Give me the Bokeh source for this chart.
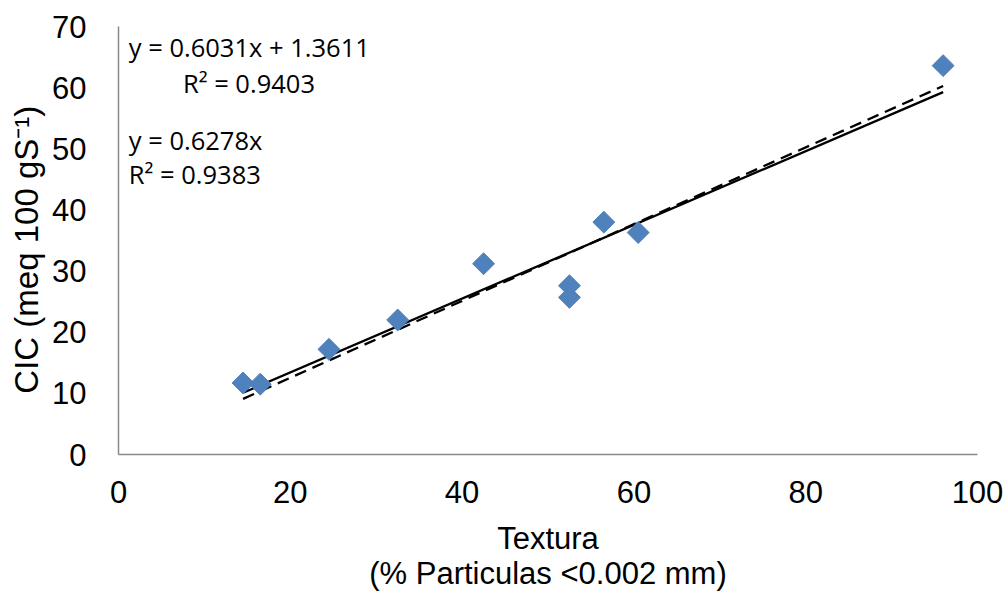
import numpy as np
from bokeh.plotting import figure
from bokeh.models import Range1d, Label, ColumnDataSource
from bokeh.embed import file_html
from bokeh.resources import INLINE

# Data
textura = [14.5, 16.5, 24.5, 32.5, 42.5, 52.5, 52.5, 56.5, 60.5, 96.0]
cic = [11.7, 11.5, 17.2, 22.0, 31.2, 27.6, 25.7, 38.0, 36.3, 63.6]

# Trendline coefficients (as printed in the chart)
lin_slope, lin_intercept = 0.6031, 1.3611
zero_slope = 0.6278

eq_lines = ["y = 0.6031x + 1.3611", "R² = 0.9403", "y = 0.6278x", "R² = 0.9383"]
x_title = "Textura\n(% Particulas <0.002 mm)"
y_title = "CIC (meq 100 gS⁻¹)\u00a0\u00a0"

x_ticks = [0, 20, 40, 60, 80, 100]
y_ticks = [0, 10, 20, 30, 40, 50, 60, 70]

p = figure(width=1008, height=594, output_backend="svg", toolbar_location=None,
           x_range=Range1d(0, 100), y_range=Range1d(0, 70),
           min_border_left=118, min_border_right=31, min_border_top=26,
           min_border_bottom=140)
p.outline_line_color = None
p.xgrid.visible = False
p.ygrid.visible = False
p.background_fill_color = "white"
p.border_fill_color = "white"

for ax in (p.xaxis[0], p.yaxis[0]):
    ax.axis_line_color = "#898989"
    ax.axis_line_width = 1.5
    ax.major_tick_line_color = None
    ax.minor_tick_line_color = None
    ax.major_label_text_font = "Liberation Sans"
    ax.major_label_text_font_size = "31px"
    ax.major_label_text_color = "black"
    ax.axis_label_text_font = "Liberation Sans"
    ax.axis_label_text_font_style = "normal"
    ax.axis_label_text_color = "black"

p.xaxis.ticker = x_ticks
p.yaxis.ticker = y_ticks
p.yaxis.major_label_standoff = 26
p.xaxis.major_label_standoff = 20
p.yaxis.axis_label = y_title
p.yaxis.axis_label_text_font_size = "33px"
p.yaxis.axis_label_standoff = 4
p.xaxis.axis_label = x_title
p.xaxis.axis_label_text_font_size = "31px"
p.xaxis.axis_label_text_line_height = 1.0
p.xaxis.axis_label_standoff = 15

# Trendlines
xmin, xmax = min(textura), max(textura)
xs_line = [xmin, xmax]
p.line(xs_line, [lin_slope * v + lin_intercept for v in xs_line],
       line_color="black", line_width=2.3)
p.line(xs_line, [zero_slope * v for v in xs_line],
       line_color="black", line_width=2.3, line_dash="12 7")

# Points
src = ColumnDataSource(dict(x=textura, y=cic))
p.scatter("x", "y", source=src, marker="square", size=15.5, angle=np.pi / 4,
          fill_color="#4F81BD", line_color="#4F81BD")

# Equation labels
eq_pos = [(1.2, 66.7), (7.5, 60.8), (1.2, 51.5), (1.2, 45.8)]
for txt, (lx, ly) in zip(eq_lines, eq_pos):
    p.add_layout(Label(x=lx, y=ly, text=txt, text_font="Open Sans",
                       text_font_size="25.5px", text_color="black",
                       text_baseline="alphabetic", text_align="left"))

open("out.html", "w").write(file_html(p, INLINE))
